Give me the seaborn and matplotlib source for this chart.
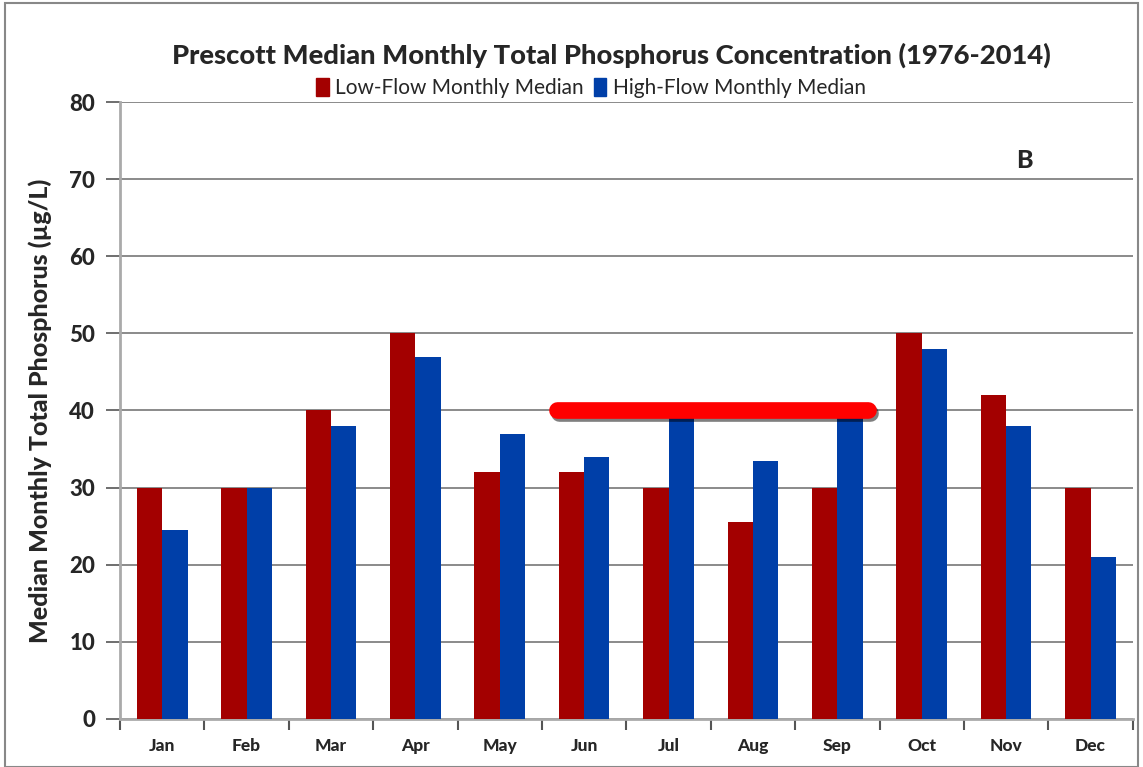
import matplotlib
matplotlib.use("Agg")
import matplotlib.pyplot as plt
import matplotlib.patheffects as pe
from matplotlib.patches import Rectangle
import seaborn as sns
import pandas as pd

# Data
months = ['Jan', 'Feb', 'Mar', 'Apr', 'May', 'Jun', 'Jul', 'Aug', 'Sep', 'Oct', 'Nov', 'Dec']
low_flow = [30, 30, 40, 50, 32, 32, 30, 25.5, 30, 50, 42, 30]
high_flow = [24.5, 30, 38, 47, 37, 34, 39.5, 33.5, 39.5, 48, 38, 21]
series_names = ['Low-Flow Monthly Median', 'High-Flow Monthly Median']
ref_value = 40          # red reference bar across Jun-Sep
ref_start, ref_end = 'Jun', 'Sep'

df = pd.DataFrame({
    'month': months * 2,
    'value': low_flow + high_flow,
    'series': [series_names[0]] * 12 + [series_names[1]] * 12,
})

sns.set_style('white')
plt.rcParams['font.family'] = ['Lato', 'DejaVu Sans']
W = 'black'  # heavy weight like the original

fig = plt.figure(figsize=(11.43, 7.67), dpi=100)
ax = fig.add_axes([0.105, 0.0626, 0.886, 0.8044])

palette = {series_names[0]: '#A30000', series_names[1]: '#003FA8'}
sns.barplot(data=df, x='month', y='value', hue='series', order=months,
            palette=palette, width=0.6, gap=0, saturation=1, ax=ax, legend=False,
            linewidth=0, zorder=3)

ax.set_ylim(0, 80)
ax.set_xlim(-0.5, 11.5)
ax.set_yticks(range(0, 81, 10))
ax.yaxis.grid(True, color='#777777', linewidth=1.2, zorder=0)
ax.set_axisbelow(True)
for s in ['top', 'right']:
    ax.spines[s].set_visible(False)
for s in ['left', 'bottom']:
    ax.spines[s].set_color('#AAAAAA')
    ax.spines[s].set_linewidth(2)

# category ticks sit between the groups
ax.set_xticks([i - 0.5 for i in range(13)], minor=True)
ax.tick_params(axis='x', which='minor', bottom=True, length=8, width=1.5, color='#555555', direction='out')
ax.tick_params(axis='x', which='major', bottom=False, length=0, pad=14, labelsize=12.5)
ax.tick_params(axis='y', left=True, length=10, width=1.2, color='#555555', direction='out', labelsize=16, pad=8)
for lbl in ax.get_xticklabels() + ax.get_yticklabels():
    lbl.set_fontweight(W)

ax.set_xlabel('')
ax.set_ylabel('Median Monthly Total Phosphorus (\u00b5g/L)', fontsize=18, fontweight=W, labelpad=12)

# red reference bar with a soft shadow
x0 = months.index(ref_start) - 0.32
x1 = months.index(ref_end) + 0.36
ax.plot([x0, x1], [ref_value, ref_value], color='#FF0000', linewidth=12,
        solid_capstyle='round', zorder=5,
        path_effects=[pe.SimpleLineShadow(offset=(1.5, -2), alpha=0.5), pe.Normal()])

ax.text(0.893, 0.905, 'B', transform=ax.transAxes, fontsize=18, fontweight=W, ha='center', va='center')

fig.text(0.535, 0.928, 'Prescott Median Monthly Total Phosphorus Concentration (1976-2014)',
         ha='center', va='center', fontsize=19.7, fontweight=W)

# legend under the title
handles = [Rectangle((0, 0), 1, 1, color=palette[n]) for n in series_names]
fig.legend(handles, series_names, loc='center', bbox_to_anchor=(0.517, 0.885), ncol=2,
           frameon=False, fontsize=15, handlelength=0.6, handleheight=0.9,
           handletextpad=0.3, columnspacing=0.5)

# outer frame
fig.patches.append(Rectangle((0.004, 0.0), 0.992, 0.996, transform=fig.transFigure,
                             fill=False, edgecolor='#888888', linewidth=1.5))

fig.savefig('out.png', dpi=100)
